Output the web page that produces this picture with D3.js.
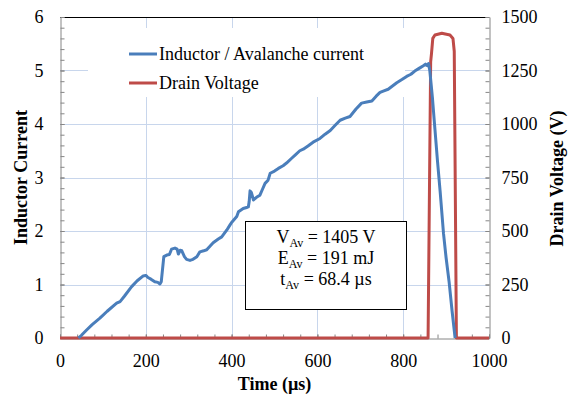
<!DOCTYPE html>
<html><head><meta charset="utf-8">
<script src="https://cdn.jsdelivr.net/npm/d3@7"></script>
<style>
html,body{margin:0;padding:0;background:#fff;}
svg text{font-family:"Liberation Serif","Times New Roman",serif;fill:#000;}
</style></head>
<body><svg id="c" width="574" height="396"></svg>
<script>
// ---- data ----
const currentTime = [43,50,62,75,93,110,132,140,150,167,180,194,200,205,212,221,228,233,236,242,249,255,260,268,273,276,280,284,290,295,303,310,319,326,335,342,350,357,369,377,389,396,400,412,416,427,435,439,441,443,446,451,458,466,472,478,485,490,500,509,520,528,540,548,559,567,578,590,606,618,630,642,653,665,676,690,703,715,727,737,746,755,765,775,785,797,808,818,827,837,847,852,856,859,862,868,874,880,886,894,900,907,914,921];
const currentA = [0,0.05,0.15,0.25,0.37,0.5,0.65,0.68,0.78,0.96,1.07,1.16,1.17,1.13,1.1,1.05,1.04,1.01,1.05,1.52,1.55,1.56,1.66,1.68,1.66,1.57,1.64,1.63,1.52,1.47,1.45,1.47,1.52,1.61,1.63,1.65,1.72,1.78,1.85,1.89,2.02,2.11,2.16,2.27,2.36,2.42,2.44,2.45,2.55,2.75,2.72,2.58,2.63,2.67,2.78,2.89,2.95,3.08,3.12,3.17,3.22,3.27,3.36,3.42,3.5,3.53,3.59,3.66,3.73,3.81,3.88,3.98,4.07,4.11,4.14,4.28,4.39,4.41,4.43,4.52,4.59,4.62,4.65,4.71,4.77,4.83,4.89,4.93,4.99,5.04,5.09,5.12,5.09,5.13,5.0,4.5,3.9,3.3,2.75,1.95,1.5,1.05,0.5,0];
const voltageTime = [0,858,864,866,869,874,890,909,916,919,924,1000];
const voltageV = [0,0,1290,1330,1400,1416,1424,1416,1400,1340,0,0];
const xTicks = [0,200,400,600,800,1000];
const yLeftTicks = [0,1,2,3,4,5,6];
const yRightTicks = [0,250,500,750,1000,1250,1500];
const seriesNames = ["Inductor / Avalanche current","Drain Voltage"];
const infoLines = [["V","Av"," = 1405 V"],["E","Av"," = 191 mJ"],["t","Av"," = 68.4 \u00b5s"]];

// ---- layout ----
const svg = d3.select("#c");
const L = 60, R = 489, T = 17, B = 338;
const x = d3.scaleLinear().domain([0,1000]).range([L,R]);
const yI = d3.scaleLinear().domain([0,6]).range([B,T]);
const yV = d3.scaleLinear().domain([0,1500]).range([B,T]);
const blue = "#4a7ebb", red = "#be4b48", grid = "#c8d6ec", axisC = "#868686";

// gridlines
svg.append("g").selectAll("line.h").data(yLeftTicks.filter(d=>d>0&&d<6)).join("line")
  .attr("x1",L).attr("x2",R).attr("y1",d=>Math.round(yI(d))+0.5).attr("y2",d=>Math.round(yI(d))+0.5)
  .attr("stroke",grid).attr("stroke-width",1);
svg.append("g").selectAll("line.v").data(xTicks.filter(d=>d>0&&d<1000)).join("line")
  .attr("x1",d=>Math.round(x(d))+0.5).attr("x2",d=>Math.round(x(d))+0.5).attr("y1",T).attr("y2",B)
  .attr("stroke",grid).attr("stroke-width",1);

// top border
svg.append("line").attr("x1",L).attr("x2",R).attr("y1",T+0.5).attr("y2",T+0.5).attr("stroke","#000").attr("stroke-width",1);

// legend background
svg.append("rect").attr("x",88).attr("y",28).attr("width",317).attr("height",69).attr("fill","#fff");
// info box
svg.append("rect").attr("x",245.5).attr("y",221.5).attr("width",161).attr("height",88).attr("fill","#fff").attr("stroke","#000").attr("stroke-width",1);

function styleAxis(g){
  g.select(".domain").attr("stroke",axisC);
  g.selectAll(".tick line").attr("stroke",axisC);
  g.selectAll("text").attr("font-size","18px").attr("fill","#000").style("font-family",'"Liberation Serif","Times New Roman",serif');
}
// left axis
const gl = svg.append("g").attr("transform",`translate(${L+0.5},0)`);
gl.call(d3.axisLeft(yI).tickValues(d3.range(0,6.01,0.2)).tickFormat("").tickSizeInner(-4).tickSizeOuter(0));
gl.append("g").call(d3.axisLeft(yI).tickValues(yLeftTicks).tickFormat(d3.format("d")).tickSizeInner(-4).tickSizeOuter(0).tickPadding(17)).call(g=>g.select(".domain").remove());
styleAxis(gl);
// right axis
const gr = svg.append("g").attr("transform",`translate(${R+0.5},0)`);
gr.call(d3.axisRight(yV).tickValues(d3.range(0,1501,50)).tickFormat("").tickSizeInner(-4).tickSizeOuter(0));
gr.append("g").call(d3.axisRight(yV).tickValues(yRightTicks).tickFormat(d3.format("d")).tickSizeInner(-4).tickSizeOuter(0).tickPadding(12)).call(g=>g.select(".domain").remove());
styleAxis(gr);
// bottom axis
const gb = svg.append("g").attr("transform",`translate(0,${B+0.5})`);
gb.call(d3.axisBottom(x).tickValues(d3.range(0,1001,40)).tickFormat("").tickSizeInner(-4).tickSizeOuter(0));
gb.append("g").call(d3.axisBottom(x).tickValues(xTicks).tickFormat(d3.format("d")).tickSizeInner(-4).tickSizeOuter(0).tickPadding(16)).call(g=>g.select(".domain").remove());
styleAxis(gb);

// series
const vData = voltageTime.map((t,i)=>[t,voltageV[i]]);
const iData = currentTime.map((t,i)=>[t,currentA[i]]);
svg.append("path").datum(vData).attr("fill","none").attr("stroke",red).attr("stroke-width",3).attr("stroke-linejoin","round")
  .attr("d",d3.line().x(d=>x(d[0])).y(d=>yV(d[1])));
svg.append("path").datum(iData).attr("fill","none").attr("stroke",blue).attr("stroke-width",3).attr("stroke-linejoin","round")
  .attr("d",d3.line().x(d=>x(d[0])).y(d=>yI(d[1])));

// legend
const leg = svg.append("g");
[[blue,54],[red,83]].forEach(([c,yy],i)=>{
  leg.append("line").attr("x1",129).attr("x2",157).attr("y1",yy).attr("y2",yy).attr("stroke",c).attr("stroke-width",3);
  leg.append("text").attr("x",159).attr("y",yy).attr("dy","0.35em").attr("font-size","18px").text(seriesNames[i]);
});

// info text
infoLines.forEach((ln,i)=>{
  const t = svg.append("text").attr("x",326).attr("y",243+i*21).attr("text-anchor","middle").attr("font-size","18px");
  t.append("tspan").text(ln[0]);
  t.append("tspan").attr("font-size","12px").attr("dy","4").text(ln[1]);
  t.append("tspan").attr("dy","-4").text(ln[2]);
});

// axis titles
svg.append("text").attr("transform",`translate(21,${(T+B)/2}) rotate(-90)`).attr("text-anchor","middle").attr("dy","0.35em")
  .attr("font-size","18px").attr("font-weight","bold").text("Inductor Current");
svg.append("text").attr("transform",`translate(557,${(T+B)/2+1}) rotate(-90)`).attr("text-anchor","middle").attr("dy","0.35em")
  .attr("font-size","18px").attr("font-weight","bold").text("Drain Voltage (V)");
svg.append("text").attr("x",(L+R)/2).attr("y",384).attr("text-anchor","middle").attr("dy","0.35em")
  .attr("font-size","18px").attr("font-weight","bold").text("Time (\u00b5s)");
</script></body></html>
